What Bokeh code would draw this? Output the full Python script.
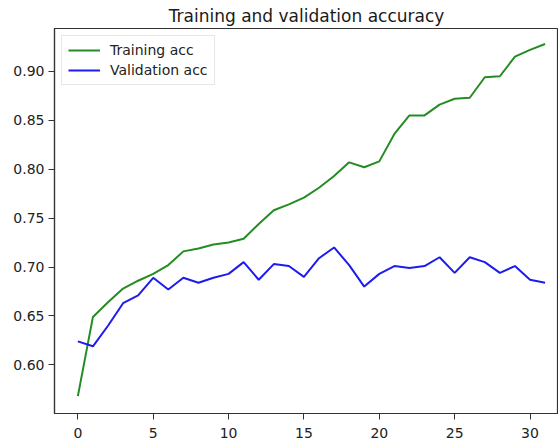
from bokeh.plotting import figure
from bokeh.models import Range1d, FixedTicker, NumeralTickFormatter
from bokeh.embed import file_html
from bokeh.resources import INLINE

epochs = list(range(32))
training_acc = [0.568, 0.649, 0.664, 0.678, 0.686, 0.693, 0.702, 0.716, 0.719, 0.723,
                0.725, 0.729, 0.744, 0.758, 0.764, 0.771, 0.781, 0.793, 0.807, 0.802,
                0.808, 0.836, 0.855, 0.855, 0.866, 0.872, 0.873, 0.894, 0.895, 0.915,
                0.922, 0.928]
validation_acc = [0.624, 0.619, 0.640, 0.663, 0.671, 0.689, 0.677, 0.689, 0.684, 0.689,
                  0.693, 0.705, 0.687, 0.703, 0.701, 0.690, 0.709, 0.720, 0.702, 0.680,
                  0.693, 0.701, 0.699, 0.701, 0.710, 0.694, 0.710, 0.705, 0.694, 0.701,
                  0.687, 0.684]
x_ticks = [0, 5, 10, 15, 20, 25, 30]
y_ticks = [0.60, 0.65, 0.70, 0.75, 0.80, 0.85, 0.90]
title_text = "Training and validation accuracy"
series_labels = ["Training acc", "Validation acc"]

FONT = "DejaVu Sans"

p = figure(width=558, height=440, output_backend="svg", toolbar_location=None,
           x_range=Range1d(-1.55, 31.89), y_range=Range1d(0.5503, 0.9438),
           title=title_text, min_border_left=54, min_border_right=0,
           min_border_top=0, min_border_bottom=27)

p.title.text_font = FONT
p.title.text_font_size = "17px"
p.title.text_font_style = "normal"
p.title.text_color = "#1a1a1a"
p.title.align = "center"
p.title.offset = 0
p.title.standoff = 6

p.line(epochs, training_acc, line_color="#248c24", line_width=2, legend_label=series_labels[0])
p.line(epochs, validation_acc, line_color="#1c1cf0", line_width=2, legend_label=series_labels[1])

p.xgrid.visible = False
p.ygrid.visible = False
p.outline_line_color = "#333333"
p.outline_line_width = 1.2

for ax in (p.xaxis[0], p.yaxis[0]):
    ax.axis_line_color = "#333333"
    ax.axis_line_width = 1.2
    ax.major_tick_line_color = "#333333"
    ax.major_tick_in = 0
    ax.major_tick_out = 6
    ax.minor_tick_line_color = None
    ax.major_label_text_font = FONT
    ax.major_label_text_font_size = "14px"
    ax.major_label_text_color = "#222222"

p.xaxis.ticker = FixedTicker(ticks=x_ticks)
p.yaxis.ticker = FixedTicker(ticks=y_ticks)
p.yaxis.formatter = NumeralTickFormatter(format="0.00")
p.xaxis.major_label_standoff = 8
p.yaxis.major_label_standoff = 4

lg = p.legend[0]
lg.location = "top_left"
lg.margin = 7
lg.padding = 6
lg.spacing = 4
lg.glyph_width = 32
lg.glyph_height = 16
lg.label_height = 16
lg.label_standoff = 10
lg.label_text_font = FONT
lg.label_text_font_size = "14px"
lg.label_text_color = "#222222"
lg.border_line_color = "#d0d0d0"
lg.border_line_width = 1
lg.background_fill_alpha = 0.85

open("out.html", "w").write(file_html(p, INLINE))
